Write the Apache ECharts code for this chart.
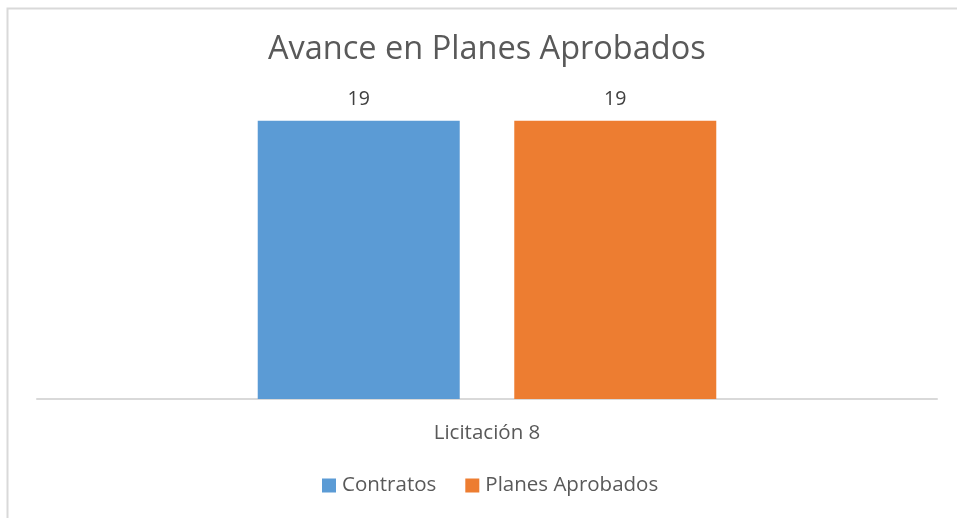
<!DOCTYPE html>
<html>
<head>
<meta charset="utf-8">
<script src="https://cdn.jsdelivr.net/npm/echarts@6/dist/echarts.min.js"></script>
<style>
	html, body { margin: 0; padding: 0; background: #fff; }
	#chart { width: 957px; height: 518px; }
</style>
</head>
<body>
<div id="chart"></div>
<script>
const categories = ["Licitación 8"];
const contratos = [19];
const planesAprobados = [19];
const seriesNames = ["Contratos", "Planes Aprobados"];

const font = "'Open Sans', 'Noto Sans', sans-serif";
const chart = echarts.init(document.getElementById("chart"));

chart.setOption({
	animation: false,
	title: {
		text: "Avance en Planes Aprobados",
		left: 268,
		top: 33,
		padding: 0,
		textStyle: { fontFamily: font, fontSize: 32.5, fontWeight: "normal", color: "#595959" },
	},
	graphic: [
		{
			type: "rect",
			shape: { x: 7.5, y: 8.5, width: 1000, height: 600 },
			style: { fill: "none", stroke: "#d9d9d9", lineWidth: 2 },
			silent: true,
		},
	],
	legend: {
		bottom: 17,
		left: 317,
		itemWidth: 14,
		itemHeight: 14,
		itemGap: 29,
		icon: "rect",
		textStyle: { fontFamily: font, fontSize: 20.5, color: "#595959", padding: [0, 0, 0, 1] },
		data: seriesNames,
	},
	grid: { left: 37, right: 20, top: 106, bottom: 119 },
	xAxis: {
		type: "category",
		data: categories,
		axisLine: { lineStyle: { color: "#d9d9d9", width: 2 } },
		axisTick: { show: false },
		axisLabel: { fontFamily: font, fontSize: 20.5, color: "#595959", margin: 24 },
	},
	yAxis: {
		type: "value",
		min: 0,
		max: 20,
		show: false,
		splitLine: { show: false },
	},
	series: [
		{
			name: seriesNames[0],
			type: "bar",
			data: contratos,
			barWidth: 202,
			barGap: "27%",
			itemStyle: { color: "#5b9bd5" },
			label: { show: true, position: "top", distance: 11, fontFamily: font, fontSize: 19.5, color: "#404040" },
		},
		{
			name: seriesNames[1],
			type: "bar",
			data: planesAprobados,
			barWidth: 202,
			barGap: "27%",
			itemStyle: { color: "#ed7d31" },
			label: { show: true, position: "top", distance: 11, fontFamily: font, fontSize: 19.5, color: "#404040" },
		},
	],
});
</script>
</body>
</html>
